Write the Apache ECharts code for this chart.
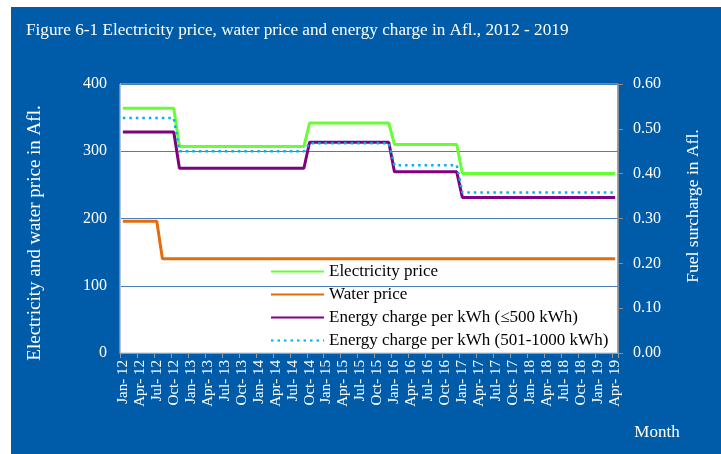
<!DOCTYPE html>
<html>
<head>
<meta charset="utf-8">
<script src="https://cdn.jsdelivr.net/npm/echarts@6/dist/echarts.min.js"></script>
<style>
html,body{margin:0;padding:0;background:#ffffff;width:721px;height:454px;overflow:hidden;}
#chart{position:absolute;left:11px;top:7px;width:710px;height:447px;}
</style>
</head>
<body>
<div id="chart"></div>
<script>
var months = [
 'Jan-12','Feb-12','Mar-12','Apr-12','May-12','Jun-12','Jul-12','Aug-12','Sep-12','Oct-12','Nov-12','Dec-12',
 'Jan-13','Feb-13','Mar-13','Apr-13','May-13','Jun-13','Jul-13','Aug-13','Sep-13','Oct-13','Nov-13','Dec-13',
 'Jan-14','Feb-14','Mar-14','Apr-14','May-14','Jun-14','Jul-14','Aug-14','Sep-14','Oct-14','Nov-14','Dec-14',
 'Jan-15','Feb-15','Mar-15','Apr-15','May-15','Jun-15','Jul-15','Aug-15','Sep-15','Oct-15','Nov-15','Dec-15',
 'Jan-16','Feb-16','Mar-16','Apr-16','May-16','Jun-16','Jul-16','Aug-16','Sep-16','Oct-16','Nov-16','Dec-16',
 'Jan-17','Feb-17','Mar-17','Apr-17','May-17','Jun-17','Jul-17','Aug-17','Sep-17','Oct-17','Nov-17','Dec-17',
 'Jan-18','Feb-18','Mar-18','Apr-18','May-18','Jun-18','Jul-18','Aug-18','Sep-18','Oct-18','Nov-18','Dec-18',
 'Jan-19','Feb-19','Mar-19','Apr-19'
];

// Electricity price (Afl.) - left axis
var electricityPrice = [
 364,364,364,364,364,364,364,364,364,364,307,307,
 307,307,307,307,307,307,307,307,307,307,307,307,
 307,307,307,307,307,307,307,307,307,342,342,342,
 342,342,342,342,342,342,342,342,342,342,342,342,
 310,310,310,310,310,310,310,310,310,310,310,310,
 267,267,267,267,267,267,267,267,267,267,267,267,
 267,267,267,267,267,267,267,267,267,267,267,267,
 267,267,267,267
];

// Water price (Afl.) - left axis
var waterPrice = [
 196,196,196,196,196,196,196,140,140,140,140,140,
 140,140,140,140,140,140,140,140,140,140,140,140,
 140,140,140,140,140,140,140,140,140,140,140,140,
 140,140,140,140,140,140,140,140,140,140,140,140,
 140,140,140,140,140,140,140,140,140,140,140,140,
 140,140,140,140,140,140,140,140,140,140,140,140,
 140,140,140,140,140,140,140,140,140,140,140,140,
 140,140,140,140
];

// Energy charge per kWh (<=500 kWh) - right axis
var energyCharge500 = [
 0.493,0.493,0.493,0.493,0.493,0.493,0.493,0.493,0.493,0.493,0.412,0.412,
 0.412,0.412,0.412,0.412,0.412,0.412,0.412,0.412,0.412,0.412,0.412,0.412,
 0.412,0.412,0.412,0.412,0.412,0.412,0.412,0.412,0.412,0.470,0.470,0.470,
 0.470,0.470,0.470,0.470,0.470,0.470,0.470,0.470,0.470,0.470,0.470,0.470,
 0.404,0.404,0.404,0.404,0.404,0.404,0.404,0.404,0.404,0.404,0.404,0.404,
 0.347,0.347,0.347,0.347,0.347,0.347,0.347,0.347,0.347,0.347,0.347,0.347,
 0.347,0.347,0.347,0.347,0.347,0.347,0.347,0.347,0.347,0.347,0.347,0.347,
 0.347,0.347,0.347,0.347
];

// Energy charge per kWh (501-1000 kWh) - right axis
var energyCharge1000 = [
 0.524,0.524,0.524,0.524,0.524,0.524,0.524,0.524,0.524,0.524,0.450,0.450,
 0.450,0.450,0.450,0.450,0.450,0.450,0.450,0.450,0.450,0.450,0.450,0.450,
 0.450,0.450,0.450,0.450,0.450,0.450,0.450,0.450,0.450,0.468,0.468,0.468,
 0.468,0.468,0.468,0.468,0.468,0.468,0.468,0.468,0.468,0.468,0.468,0.468,
 0.419,0.419,0.419,0.419,0.419,0.419,0.419,0.419,0.419,0.419,0.419,0.419,
 0.358,0.358,0.358,0.358,0.358,0.358,0.358,0.358,0.358,0.358,0.358,0.358,
 0.358,0.358,0.358,0.358,0.358,0.358,0.358,0.358,0.358,0.358,0.358,0.358,
 0.358,0.358,0.358,0.358
];

var seriesNames = [
 'Electricity price',
 'Water price',
 'Energy charge per kWh (\u2264500 kWh)',
 'Energy charge per kWh (501-1000 kWh)'
];

var titleText = 'Figure 6-1 Electricity price, water price and energy charge in Afl., 2012 - 2019';
var leftAxisName = 'Electricity and water price in Afl.';
var rightAxisName = 'Fuel surcharge in Afl.';
var xAxisName = 'Month';

var serif = '"Liberation Serif", "DejaVu Serif", serif';

var chart = echarts.init(document.getElementById('chart'), null, {renderer: 'canvas'});
chart.setOption({
  backgroundColor: '#005CA9',
  animation: false,
  textStyle: {fontFamily: serif},
  title: {
    text: titleText,
    left: 10, top: 10,
    textStyle: {color: '#ffffff', fontSize: 17.2, fontWeight: 'normal', fontFamily: serif}
  },
  grid: {
    left: 109, right: 103, top: 77, bottom: 101,
    show: true, backgroundColor: '#ffffff', borderColor: '#B4C4D8', borderWidth: 1,
    containLabel: false
  },
  legend: {
    orient: 'vertical',
    left: 259, top: 256,
    padding: 0,
    itemWidth: 53, itemHeight: 16, itemGap: 6,
    data: seriesNames,
    itemStyle: {color: 'transparent', borderWidth: 0, opacity: 0},
    textStyle: {color: '#000000', fontSize: 17, lineHeight: 16, fontFamily: serif}
  },
  xAxis: {
    type: 'category',
    data: months,
    boundaryGap: true,
    axisLine: {show: true, lineStyle: {color: '#9A9A9A', width: 1}},
    axisTick: {show: true, interval: 2, length: 5, lineStyle: {color: '#9A9A9A'}},
    axisLabel: {
      interval: 2, rotate: 90, margin: 7,
      color: '#ffffff', fontSize: 15, fontFamily: serif,
      formatter: function (v) { return v.replace('-', '- '); }
    },
    splitLine: {show: false}
  },
  yAxis: [
    {
      type: 'value', min: 0, max: 400, interval: 100,
      axisLine: {show: true, lineStyle: {color: '#B4C4D8'}},
      axisTick: {show: false},
      axisLabel: {color: '#ffffff', fontSize: 16, fontFamily: serif, margin: 13},
      splitLine: {show: true, lineStyle: {color: '#4A7EBB', width: 1}}
    },
    {
      type: 'value', min: 0, max: 0.6, interval: 0.1, position: 'right',
      axisLine: {show: true, lineStyle: {color: '#8C8C8C', width: 1.5}},
      axisTick: {show: true, length: 5, inside: false, lineStyle: {color: '#8C8C8C'}},
      axisLabel: {color: '#ffffff', fontSize: 16, fontFamily: serif, margin: 15,
        formatter: function (v) { return v.toFixed(2); }},
      splitLine: {show: false}
    }
  ],
  series: [
    {
      name: seriesNames[0], type: 'line', yAxisIndex: 0, data: electricityPrice,
      symbol: 'none', lineStyle: {color: '#66FF33', width: 3}, itemStyle: {color: '#66FF33'}, z: 3
    },
    {
      name: seriesNames[1], type: 'line', yAxisIndex: 0, data: waterPrice,
      symbol: 'none', lineStyle: {color: '#E46C0A', width: 3}, itemStyle: {color: '#E46C0A'}, z: 3
    },
    {
      name: seriesNames[2], type: 'line', yAxisIndex: 1, data: energyCharge500,
      symbol: 'none', lineStyle: {color: '#800080', width: 3}, itemStyle: {color: '#800080'}, z: 3
    },
    {
      name: seriesNames[3], type: 'line', yAxisIndex: 1, data: energyCharge1000,
      symbol: 'none', lineStyle: {color: '#00B0F0', width: 2.5, type: [2.5, 4]}, itemStyle: {color: '#00B0F0'}, z: 4
    }
  ],
  graphic: [
    {
      type: 'text', x: 24, y: 226, rotation: Math.PI / 2,
      style: {text: leftAxisName, fill: '#ffffff', font: '19px ' + serif, textAlign: 'center', textVerticalAlign: 'middle'}
    },
    {
      type: 'text', x: 682, y: 199, rotation: Math.PI / 2,
      style: {text: rightAxisName, fill: '#ffffff', font: '17.5px ' + serif, textAlign: 'center', textVerticalAlign: 'middle'}
    },
    {
      type: 'text', x: 646, y: 426,
      style: {text: xAxisName, fill: '#ffffff', font: '17px ' + serif, textAlign: 'center', textVerticalAlign: 'middle'}
    }
  ]
});
</script>
</body>
</html>
